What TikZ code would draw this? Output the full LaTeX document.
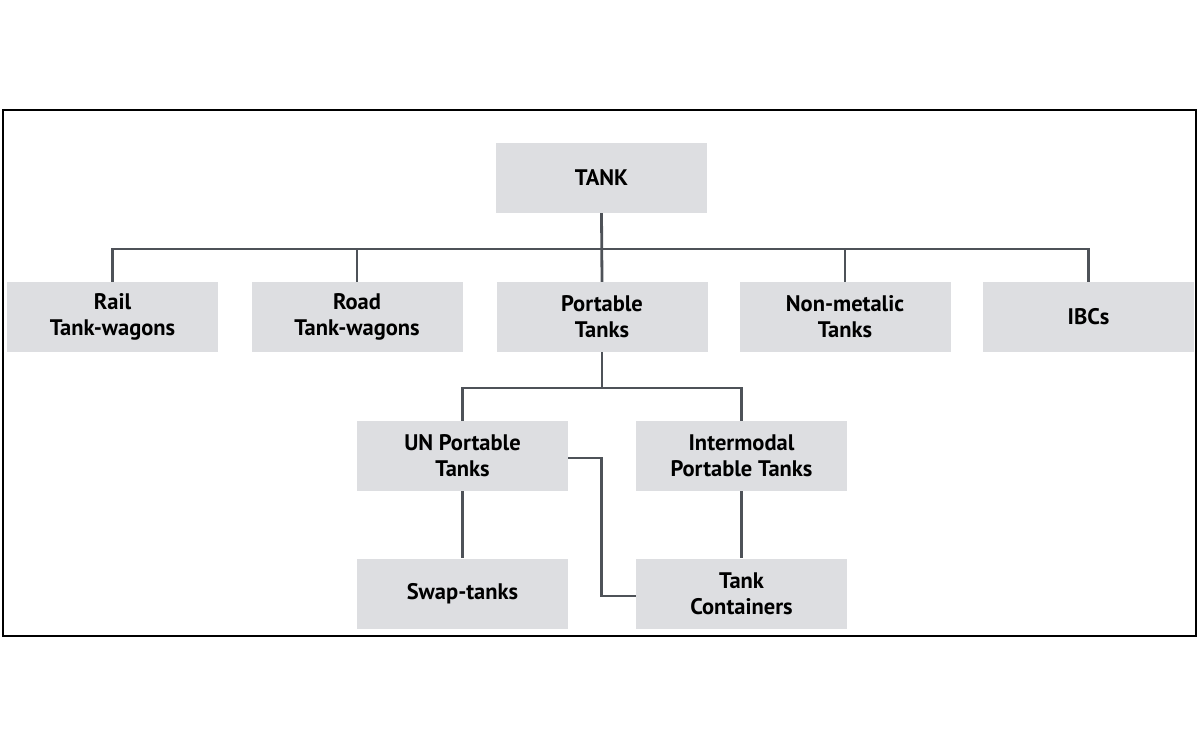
\documentclass[tikz,border=0pt]{standalone}
\usepackage{fontspec}
\setmainfont{PT Sans}
\usetikzlibrary{positioning, calc}
\definecolor{boxgray}{RGB}{221, 222, 225}
\definecolor{linegray}{RGB}{78, 82, 88}
\begin{document}
\begin{tikzpicture}[x=1pt, y=-1pt,
        font=\fontsize{22.5}{26}\selectfont\bfseries,
        b/.style={rectangle, draw=none, fill=boxgray, minimum width=211pt, minimum height=70pt,
                  align=center, inner sep=0pt},
        link/.style={draw=linegray, line width=2.8pt}]
    \useasboundingbox (0,0) rectangle (1200,746);
    \draw[black, line width=1.8pt] (3,110) rectangle (1196,636);

    \node[b] (tank) at (601.5,178) {TANK};

    \node[b] (rail)     at (112.5,317) {Rail\\Tank-wagons};
    \node[b] (road)     at (357,317)   {Road\\Tank-wagons};
    \node[b] (portable) at (602,317)   {Portable\\Tanks};
    \node[b] (nonmetal) at (845,317)   {Non-metalic\\Tanks};
    \node[b] (ibc)      at (1088.5,317){IBCs};

    \node[b] (un)         at (462.5,456) {UN Portable\\Tanks};
    \node[b] (intermodal) at (741.5,456) {Intermodal\\Portable Tanks};

    \node[b] (swap)      at (462.5,593.5) {Swap-tanks};
    \node[b] (container) at (741.5,593.5) {Tank\\Containers};

    \coordinate (bus) at (0,249);
    \coordinate (subbus) at (0,388);

    \draw[link] (rail.north) -- (rail.north |- bus) -- (ibc.north |- bus) -- (ibc.north);
    \draw[link] (tank.south) -- (portable.north);
    \draw[link] (road.north) -- (road.north |- bus);
    \draw[link] (nonmetal.north) -- (nonmetal.north |- bus);

    \draw[link] (portable.south) -- (portable.south |- subbus);
    \draw[link] (un.north) -- (un.north |- subbus) -- (intermodal.north |- subbus) -- (intermodal.north);

    \draw[link] (un.south) -- (swap.north);
    \draw[link] (intermodal.south) -- (container.north);
    \draw[link] ([yshift=-2pt]un.east) -- ++(33,0) |- ([yshift=-2.5pt]container.west);
\end{tikzpicture}
\end{document}
